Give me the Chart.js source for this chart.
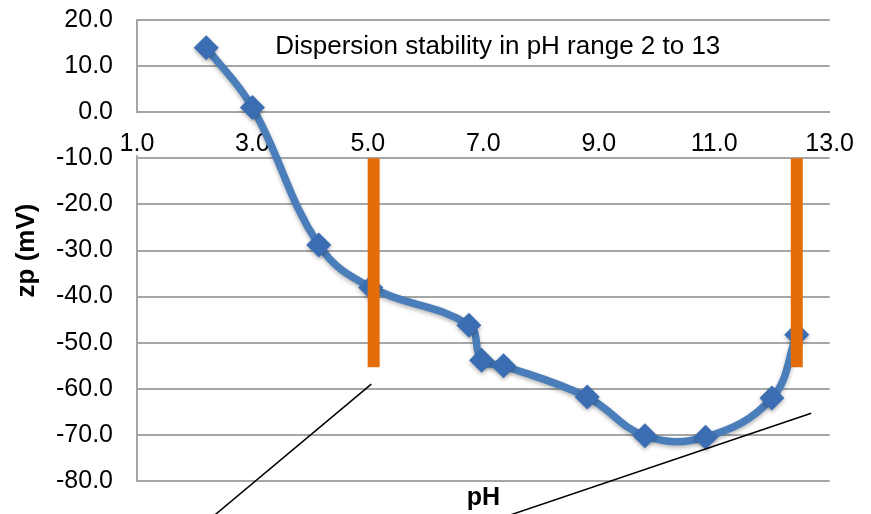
<!DOCTYPE html>
<html>
<head>
<meta charset="utf-8">
<script src="https://cdn.jsdelivr.net/npm/chart.js@4.4.1/dist/chart.umd.min.js"></script>
<style>
  html, body { margin: 0; padding: 0; background: #fff; }
  #wrap { width: 871px; height: 514px; }
</style>
</head>
<body>
<div id="wrap"><canvas id="zpChart"></canvas></div>
<script>
// measured pH vs zeta potential (mV)
const phValues = [2.2, 3.0, 4.15, 5.05, 6.75, 6.97, 7.35, 8.8, 9.8, 10.85, 12.0, 12.43];
const zpValues = [14.0, 1.0, -28.8, -38.0, -46.2, -53.8, -55.0, -61.8, -70.2, -70.5, -62.0, -48.3];

// orange limit bars
const limitLowPh = [5.1, 5.1];
const limitHighPh = [12.43, 12.43];
const limitZp = [-10, -55.3];

// thin black callout lines
const callout1Ph = [5.06, 2.24];
const callout1Zp = [-59.0, -88.5];
const callout2Ph = [12.68, 7.2];
const callout2Zp = [-65.3, -88.5];

// axis ranges (ticks are built from these)
const xRange = { min: 1, max: 13, step: 2 };
const yRange = { min: -80, max: 20, step: 10 };

const noteText = 'Dispersion stability in pH range 2 to 13';
const axisTitles = { x: 'pH', y: 'zp (mV)' };

const FONT = '"Liberation Sans", Arial, sans-serif';
const GRID = '#a6a6a6';

const toPoints = (xs, ys) => xs.map((x, i) => ({ x: x, y: ys[i] }));

// text box inside the plot
const notePlugin = {
    id: 'note',
    afterDraw(chart) {
        const { ctx, scales } = chart;
        ctx.save();
        ctx.font = '26px ' + FONT;
        ctx.fillStyle = '#000';
        ctx.textAlign = 'center';
        ctx.textBaseline = 'middle';
        ctx.fillText(noteText, scales.x.getPixelForValue(7.25), scales.y.getPixelForValue(14.1));
        ctx.restore();
    }
};

// soft shadow under the blue series, like the office chart
const shadowPlugin = {
    id: 'shadow',
    beforeDatasetDraw(chart, args) {
        if (args.index !== 4) return;
        const ctx = chart.ctx;
        ctx.save();
        ctx.shadowColor = 'rgba(0, 0, 0, 0.3)';
        ctx.shadowBlur = 4;
        ctx.shadowOffsetY = 2;
    },
    afterDatasetDraw(chart, args) {
        if (args.index !== 4) return;
        chart.ctx.restore();
    }
};

Chart.defaults.font.family = FONT;
Chart.defaults.color = '#000';

new Chart(document.getElementById('zpChart'), {
    type: 'line',
    data: {
        datasets: [
            {
                data: toPoints(callout1Ph, callout1Zp),
                borderColor: '#000', borderWidth: 1.5, pointRadius: 0, clip: false, order: 1
            },
            {
                data: toPoints(callout2Ph, callout2Zp),
                borderColor: '#000', borderWidth: 1.5, pointRadius: 0, clip: false, order: 1
            },
            {
                data: toPoints(limitLowPh, limitZp),
                borderColor: '#e46c0a', borderWidth: 12, pointRadius: 0, order: 2
            },
            {
                data: toPoints(limitHighPh, limitZp),
                borderColor: '#e46c0a', borderWidth: 12, pointRadius: 0, order: 2
            },
            {
                data: toPoints(phValues, zpValues),
                borderColor: '#4a7ebb',
                borderWidth: 7.5,
                tension: 0.4,
                pointStyle: 'rectRot',
                pointRadius: 12.5,
                pointBorderWidth: 0,
                pointBackgroundColor: '#3b6db3',
                order: 3
            }
        ]
    },
    options: {
        responsive: true,
        maintainAspectRatio: false,
        animation: false,
        layout: { padding: { top: 20, right: 41, left: 0, bottom: 0 } },
        plugins: {
            legend: { display: false },
            tooltip: { enabled: false }
        },
        scales: {
            x: {
                type: 'linear',
                position: { y: 0 },
                min: xRange.min, max: xRange.max,
                ticks: {
                    stepSize: xRange.step,
                    padding: 17,
                    font: { size: 25 },
                    showLabelBackdrop: true,
                    backdropColor: '#fff',
                    backdropPadding: { top: 16, bottom: -4, left: 0, right: 0 },
                    callback: v => v.toFixed(1)
                },
                grid: { display: false, drawTicks: false, z: -2 },
                border: { color: GRID, width: 2, z: -1 }
            },
            x2: {
                type: 'linear',
                position: 'bottom',
                min: xRange.min, max: xRange.max,
                ticks: { display: false },
                grid: { display: false, drawTicks: false },
                border: { display: false },
                title: {
                    display: true,
                    text: axisTitles.x,
                    font: { size: 25, weight: 'bold' },
                    padding: { top: 2, bottom: 1 }
                }
            },
            y: {
                type: 'linear',
                position: 'left',
                min: yRange.min, max: yRange.max,
                ticks: {
                    stepSize: yRange.step,
                    padding: 0,
                    font: { size: 25 },
                    callback: v => v.toFixed(1)
                },
                grid: { color: GRID, lineWidth: 2, drawTicks: true, tickLength: 24, tickColor: 'rgba(0,0,0,0)', z: -2 },
                border: { color: GRID, width: 2, z: -1 },
                title: {
                    display: true,
                    text: axisTitles.y,
                    font: { size: 26, weight: 'bold' },
                    padding: { top: 11, bottom: 0 }
                },
                afterFit: s => { s.width = 137; }
            }
        }
    },
    plugins: [notePlugin, shadowPlugin]
});
</script>
</body>
</html>
